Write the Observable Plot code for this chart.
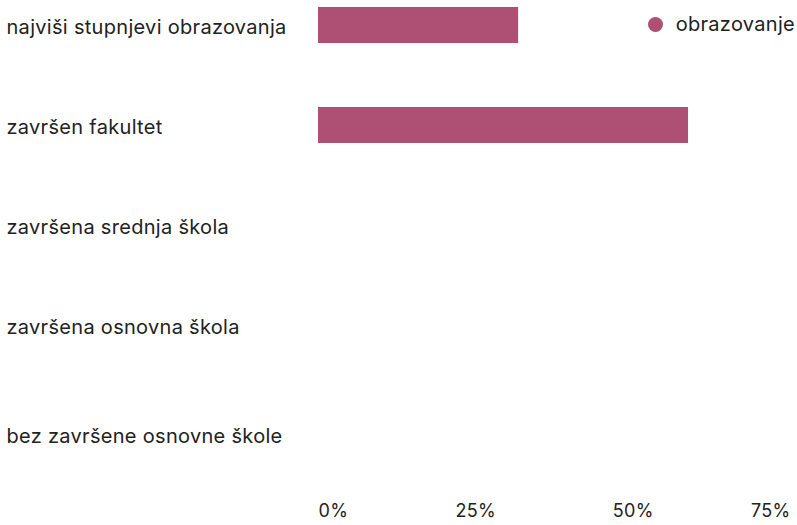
<!DOCTYPE html>
<html><head><meta charset="utf-8">
<script src="https://cdn.jsdelivr.net/npm/d3@7"></script>
<script src="https://cdn.jsdelivr.net/npm/@observablehq/plot@0.6"></script>
<style>
body{margin:0;background:#fff;font-family:Inter,sans-serif}
#wrap{position:relative;width:797px;height:525px}
#legend{position:absolute;top:12px;right:2px;display:flex;align-items:center;font-size:20px;letter-spacing:0.3px;line-height:24px;color:#222}
#legend .sw{width:15px;height:15px;border-radius:50%;margin-right:13px;display:inline-block}
</style></head><body><div id="wrap"><div id="legend"><span class="sw"></span><span class="lt"></span></div></div>
<script>
const categories = ["najviši stupnjevi obrazovanja", "završen fakultet", "završena srednja škola", "završena osnovna škola", "bez završene osnovne škole"];
const values = [0.318, 0.588, 0, 0, 0];
const seriesName = "obrazovanje";
const xTicks = [0, 0.25, 0.5, 0.75];
const barColor = "#ae4f74";

const data = categories.map((c, i) => ({category: c, value: values[i]}));
const fmt = d => Math.round(d * 100) + "%";
const tickStyle = {x: d => d, text: fmt, frameAnchor: "bottom", dy: 73.5, fill: "#222", fontSize: 18};
const labelStyle = {y: d => d, text: d => d, frameAnchor: "left", textAnchor: "start", dx: -312, fill: "#222", fontSize: 20};

const chart = Plot.plot({
  width: 797, height: 525,
  marginLeft: 318, marginRight: 7, marginTop: 7, marginBottom: 82,
  style: {fontFamily: "Inter, sans-serif", fontSize: "18px", color: "#222", background: "transparent", letterSpacing: "0.3px"},
  x: {domain: [0, 0.75], axis: null},
  y: {domain: categories, axis: null, paddingInner: 0.64, paddingOuter: 0, round: false},
  marks: [
    Plot.barX(data, {x: "value", y: "category", fill: barColor}),
    Plot.text(categories.slice(0, -1), {...labelStyle, dy: 2}),
    Plot.text(categories.slice(-1), {...labelStyle, dy: 11}),
    Plot.text(xTicks.slice(0, 1), {...tickStyle, textAnchor: "start"}),
    Plot.text(xTicks.slice(1, -1), {...tickStyle, textAnchor: "middle"}),
    Plot.text(xTicks.slice(-1), {...tickStyle, textAnchor: "end"})
  ]
});
document.getElementById("wrap").prepend(chart);
document.querySelector("#legend .sw").style.background = barColor;
document.querySelector("#legend .lt").textContent = seriesName;
</script>
</body></html>
